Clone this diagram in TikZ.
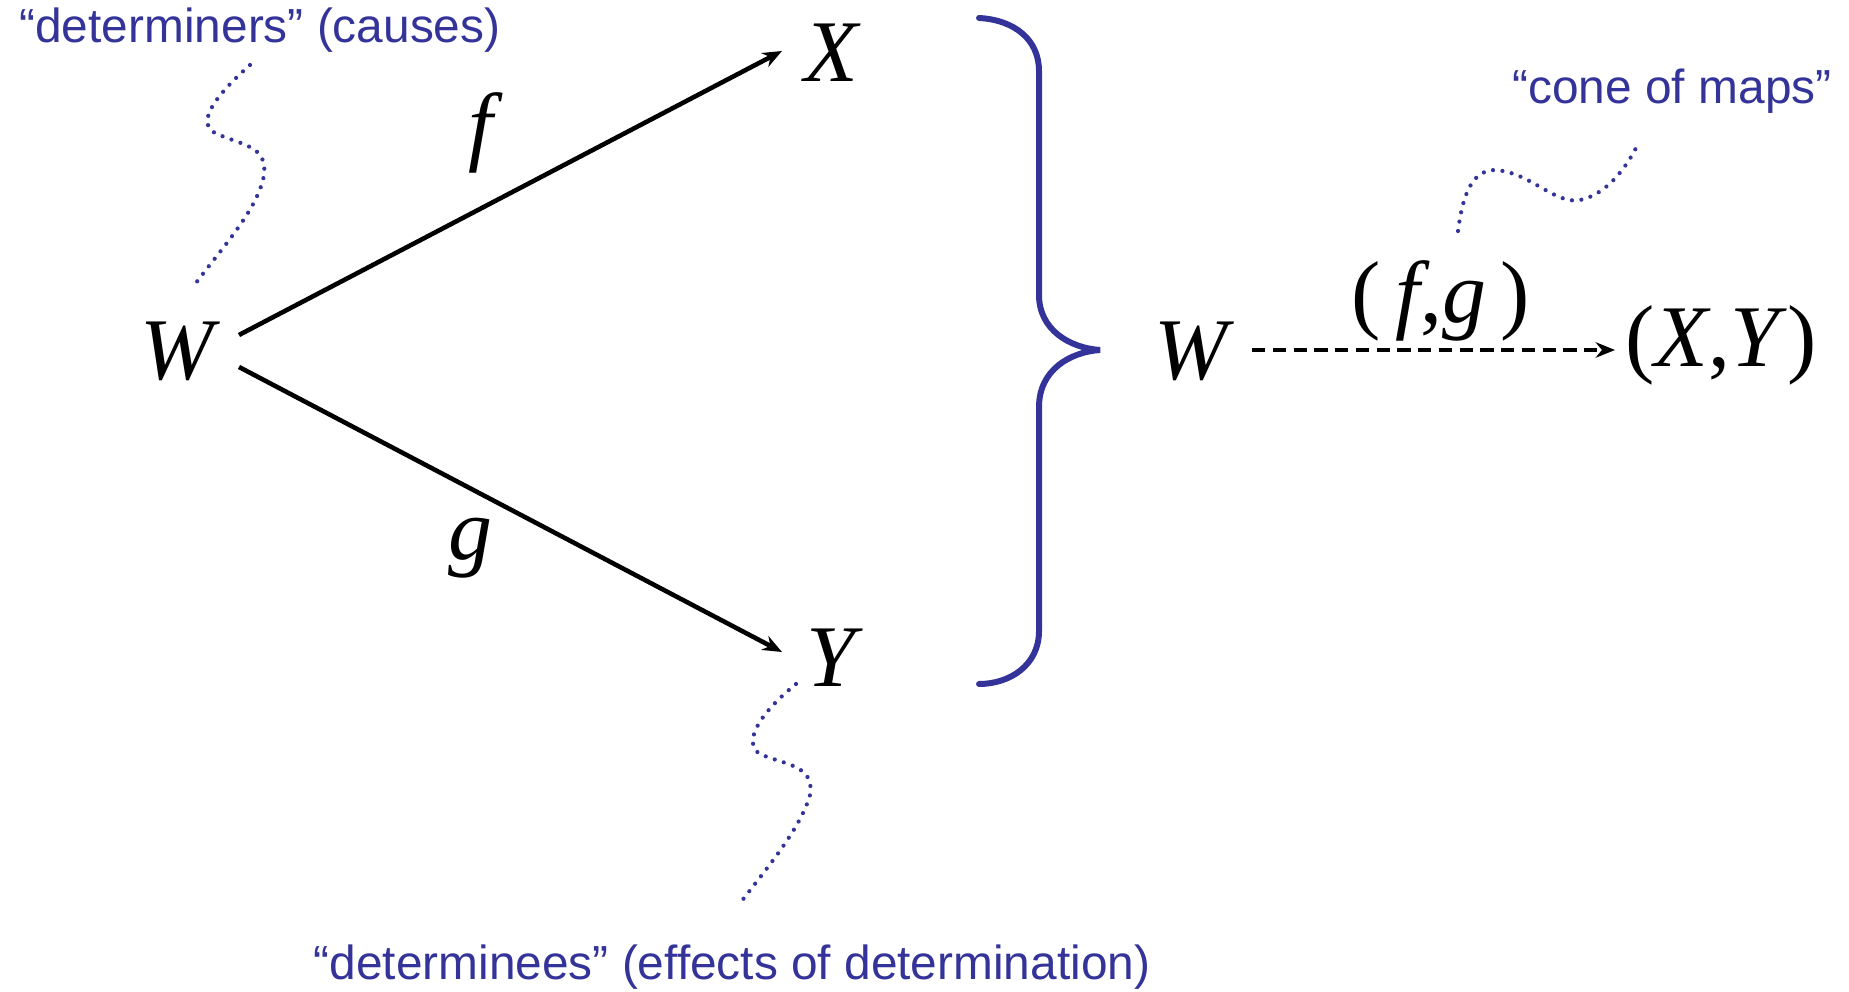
\documentclass[tikz,border=0pt]{standalone}
\usepackage{fontspec}
\setmainfont{Liberation Serif}
\newfontfamily\notefont{Liberation Sans}
\usepackage{xcolor}
\usetikzlibrary{arrows.meta, positioning}
\definecolor{noteblue}{RGB}{51, 51, 153}

\tikzset{
	note/.style={text=noteblue, inner sep=0pt, font=\notefont\fontsize{13.6}{16}\selectfont},
	obj/.style={inner sep=0pt, font=\fontsize{25}{28}\selectfont\itshape},
	maplabel/.style={inner sep=0pt, font=\fontsize{25}{28}\selectfont},
	maparrow/.style={line width=1.3pt, -{Stealth[length=5.5pt, width=4.4pt]}},
	squiggle/.style={draw=noteblue, line width=1.2pt, line cap=round, dash pattern=on 0pt off 2.7pt}
}

\begin{document}
\begin{tikzpicture}[x=0.01cm, y=-0.01cm]
	\useasboundingbox (0,0) rectangle (1849,992);

	% objects and maps
	\node[obj] (W) at (177,351) {W};
	\node[obj] (X) at (831,53) {X};
	\node[obj] (Y) at (831,658) {Y};
	\coordinate (Wtop) at (239,335);
	\coordinate (Wbot) at (239,367);
	\coordinate (Xin) at (782,51);
	\coordinate (Yin) at (782,652);
	\draw[maparrow] (Wtop) -- (Xin);
	\draw[maparrow] (Wbot) -- (Yin);
	\node[obj] (f) at (481,133) {f};
	\node[obj] (g) at (470,548) {g};

	% brace
	\draw[noteblue, line width=1.7pt, line cap=round]
		(979,18) .. controls (1015,20) and (1039,40) .. (1039,71) -- (1039,295)
		.. controls (1039,330) and (1070,348) .. (1100,350)
		.. controls (1070,352) and (1039,370) .. (1039,407) -- (1039,631)
		.. controls (1039,665) and (1010,684) .. (979,684);

	% cone of maps
	\node[obj] (W2) at (1191,351) {W};
	\node[maplabel] (XY) at (1721,345) {(\textit{X},\textit{Y})};
	\coordinate (Wout) at (1252,350);
	\coordinate (XYin) at (1615,350);
	\draw[maparrow, dash pattern=on 3.8pt off 2.1pt] (Wout) -- (XYin);
	\node[maplabel] (fg) at (1441,301) {(\,\textit{f},\textit{g}\,)};

	% notes
	\node[note] (causes) at (260,30) {“determiners” (causes)};
	\node[note] (effects) at (732,967) {“determinees” (effects of determination)};
	\node[note] (cone) at (1672,91) {“cone of maps”};
	\draw[squiggle] (250,65) .. controls (205,105) and (200,125) .. (215,133)
		.. controls (240,145) and (268,145) .. (264,175)
		.. controls (258,210) and (220,250) .. (193,287);
	\draw[squiggle] (796,684) .. controls (752,720) and (745,745) .. (760,754)
		.. controls (785,765) and (815,765) .. (810,795)
		.. controls (800,830) and (765,870) .. (738,906);
	\draw[squiggle] (1458,231) .. controls (1462,200) and (1470,170) .. (1495,170)
		.. controls (1530,172) and (1555,205) .. (1580,200)
		.. controls (1605,195) and (1625,170) .. (1637,146);
\end{tikzpicture}
\end{document}
